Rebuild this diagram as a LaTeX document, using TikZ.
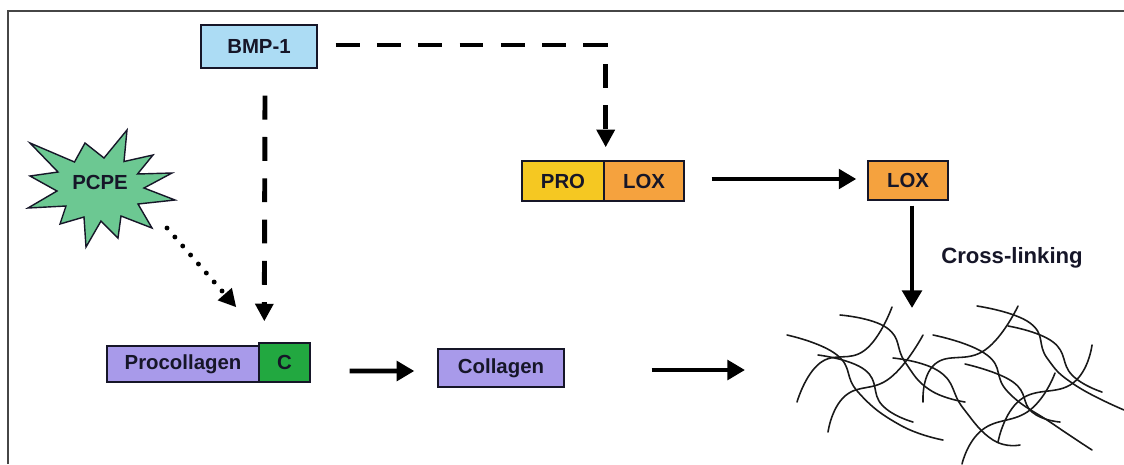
\documentclass[tikz,border=0pt]{standalone}
\usepackage{fontspec}
\setmainfont{Liberation Sans}
\usetikzlibrary{arrows.meta,calc}

\definecolor{bmpblue}{RGB}{172,220,244}
\definecolor{pcpegreen}{RGB}{108,200,146}
\definecolor{proyellow}{RGB}{245,200,34}
\definecolor{loxorange}{RGB}{245,162,62}
\definecolor{lavender}{RGB}{168,154,234}
\definecolor{cgreen}{RGB}{34,168,64}
\definecolor{inkdark}{RGB}{22,22,40}
\definecolor{framegray}{RGB}{70,70,70}

\begin{document}
\begin{tikzpicture}[x=0.02cm,y=-0.02cm,
  box/.style={draw=inkdark,line width=0.8pt,inner sep=0pt,text=inkdark,
    font=\fontsize{11.6}{14}\selectfont\bfseries},
  label/.style={inner sep=0pt,text=inkdark,font=\fontsize{12.6}{15}\selectfont\bfseries},
  solidarrow/.style={line width=2.8pt,-{Triangle[length=10pt,width=11pt]}},
  dasharrow/.style={line width=2.8pt,dash pattern=on 13.6pt off 9.9pt,
    -{Triangle[length=10pt,width=10pt]}},
  dotarrow/.style={line width=2.8pt,line cap=round,dash pattern=on 0pt off 6.8pt,
    -{Triangle[length=10pt,width=10pt]}},
  fiber/.style={line width=0.9pt,draw=black!90,line cap=round}]

\useasboundingbox (0,0) rectangle (1124,464);
\fill[white] (0,0) rectangle (1124,464);

% frame
\draw[framegray,line width=1.1pt] (8,464) -- (8,11) -- (1124,11);

% boxes
\node[box,fill=bmpblue,minimum width=2.32cm,minimum height=0.86cm] (bmp) at (259,46.5) {BMP-1};
\node[box,fill=proyellow,minimum width=1.64cm,minimum height=0.8cm] (pro) at (563,181) {PRO};
\node[box,fill=loxorange,minimum width=1.6cm,minimum height=0.8cm] (loxpro) at (644,181) {LOX};
\node[box,fill=loxorange,minimum width=1.6cm,minimum height=0.78cm] (lox) at (908,180.5) {LOX};
\node[box,fill=lavender,minimum width=3.04cm,minimum height=0.72cm] (procol) at (183,364) {Procollagen};
\node[box,fill=cgreen,minimum width=1.02cm,minimum height=0.78cm] (cterm) at (284.5,362.5) {C};
\node[box,fill=lavender,minimum width=2.52cm,minimum height=0.76cm] (col) at (501,368) {Collagen};

% PCPE starburst
\filldraw[fill=pcpegreen,draw=inkdark,line width=0.8pt,line join=miter]
  (175,200) -- (138,204) -- (152,228) -- (121,216) -- (118,238) -- (101,221)
  -- (86,247) -- (84,217) -- (60,224) -- (66,206) -- (28,208) -- (57,191)
  -- (30,176) -- (58,172) -- (30,143) -- (74.5,162) -- (85,143) -- (104,158)
  -- (127,130) -- (124,161.5) -- (153,155) -- (137.5,174) -- (172,173) -- (144,188)
  -- cycle;
\node[label,font=\fontsize{11.6}{14}\selectfont\bfseries] (pcpe) at (100,182) {PCPE};

\node[label] (xlink) at (1012,258) {Cross-linking};

% free ends at the fibre mesh
\coordinate (meshtop) at (912,308);
\coordinate (meshleft) at (745,370);

% connectors
\draw[dasharrow] ($(bmp.east)+(18,-1.5)$) -| ($(pro.north east)+(1,-13)$);
\draw[dasharrow] ($(bmp.south)+(6,27)$) -- ($(cterm.north west)+(6,-21)$);
\draw[dotarrow] ($(pcpe)+(67,46)$) -- ($(cterm.north west)+(-22,-35)$);
\draw[solidarrow] ($(loxpro.east)+(27,-2)$) -- ($(lox.west)+(-11,-1.5)$);
\draw[solidarrow] ($(lox.south)+(4,5)$) -- (meshtop);
\draw[solidarrow] ($(cterm.east)+(39,8.5)$) -- ($(col.west)+(-23,3)$);
\draw[solidarrow] ($(col.east)+(87,2)$) -- (meshleft);

% fibre mesh
\begin{scope}[every path/.style={fiber}]
\draw plot[smooth,tension=0.8] coordinates {(787,335) (837,355) (858,392) (900,425) (943,440)};
\draw plot[smooth,tension=0.8] coordinates {(818,355) (865,370) (882,405) (913,422)};
\draw plot[smooth,tension=0.8] coordinates {(797,402) (820,363) (865,350) (892,307)};
\draw plot[smooth,tension=0.8] coordinates {(840,315) (887,328) (905,362) (930,390) (965,402)};
\draw plot[smooth,tension=0.8] coordinates {(828,432) (845,396) (890,378) (923,335)};
\draw plot[smooth,tension=0.8] coordinates {(893,358) (940,372) (963,408) (993,440) (1020,445)};
\draw plot[smooth,tension=0.8] coordinates {(923,402) (935,364) (985,350) (1018,306)};
\draw plot[smooth,tension=0.8] coordinates {(977,306) (1030,323) (1047,358) (1075,385) (1124,410)};
\draw plot[smooth,tension=0.8] coordinates {(1008,326) (1053,342) (1072,375) (1102,392)};
\draw plot[smooth,tension=0.8] coordinates {(1092,345) (1073,383) (1020,400) (998,442)};
\draw plot[smooth,tension=0.8] coordinates {(933,335) (987,355) (1008,392) (1053,424) (1092,450)};
\draw plot[smooth,tension=0.8] coordinates {(965,364) (1013,382) (1032,412) (1060,422)};
\draw plot[smooth,tension=0.8] coordinates {(1055,373) (1030,410) (982,430) (962,464)};
\end{scope}

\end{tikzpicture}
\end{document}
